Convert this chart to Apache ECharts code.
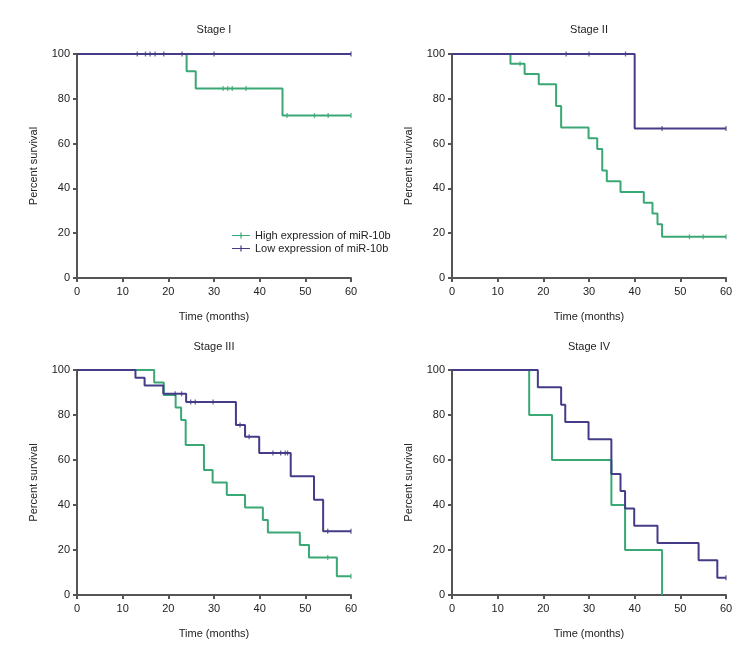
<!DOCTYPE html>
<html><head><meta charset="utf-8">
<script src="https://cdn.jsdelivr.net/npm/echarts@6/dist/echarts.min.js"></script>
<style>html,body{margin:0;padding:0;background:#fff}#c{width:756px;height:666px}</style>
</head><body><div id="c"></div>
<script>
const panelTitles = ['Stage I', 'Stage II', 'Stage III', 'Stage IV'];
const seriesNames = ['High expression of miR-10b', 'Low expression of miR-10b'];
const xAxisName = 'Time (months)';
const yAxisName = 'Percent survival';

// Stage I
const s1HighTime = [0, 24, 26, 45, 60];
const s1HighSurv = [100, 92.3, 84.6, 72.5, 72.5];
const s1HighCens = [32, 33, 34, 37, 46, 52, 55, 60];
const s1LowTime = [0, 60];
const s1LowSurv = [100, 100];
const s1LowCens = [13.2, 15, 16, 17.1, 19, 23, 30, 60];

// Stage II
const s2HighTime = [0, 12.8, 15.9, 19, 22.8, 23.9, 29.9, 31.8, 32.9, 33.9, 36.9, 42, 43.9, 45, 46, 60];
const s2HighSurv = [100, 95.7, 91.1, 86.5, 76.8, 67.2, 62.4, 57.6, 48.0, 43.2, 38.4, 33.6, 28.8, 24.0, 18.4, 18.4];
const s2HighCens = [14.9, 52, 55, 60];
const s2LowTime = [0, 40, 60];
const s2LowSurv = [100, 66.7, 66.7];
const s2LowCens = [25, 30, 38, 46, 60];

// Stage III
const s3HighTime = [0, 16.9, 19, 21.6, 22.8, 23.8, 27.8, 29.7, 32.8, 36.8, 40.7, 41.8, 48.8, 50.8, 56.9, 60];
const s3HighSurv = [100, 94.4, 88.9, 83.3, 77.8, 66.7, 55.6, 50.0, 44.4, 38.9, 33.3, 27.8, 22.2, 16.7, 8.3, 8.3];
const s3HighCens = [54.9, 60];
const s3LowTime = [0, 12.8, 14.8, 18.9, 23.9, 34.8, 36.8, 39.9, 46.8, 51.9, 53.9, 60];
const s3LowSurv = [100, 96.6, 93.1, 89.4, 85.8, 75.6, 70.3, 63.1, 52.8, 42.3, 28.3, 28.3];
const s3LowCens = [21.5, 22.9, 24.9, 25.9, 29.8, 35.7, 37.7, 42.9, 44.6, 45.6, 46.1, 54.9, 60];

// Stage IV
const s4HighTime = [0, 16.9, 21.9, 34.9, 37.9, 46];
const s4HighSurv = [100, 80, 60, 40, 20, 0];
const s4HighCens = [];
const s4LowTime = [0, 18.8, 23.9, 24.8, 29.9, 34.9, 36.9, 37.9, 39.9, 45, 54, 58.1, 60];
const s4LowSurv = [100, 92.3, 84.6, 76.9, 69.2, 53.8, 46.2, 38.5, 30.8, 23.1, 15.4, 7.7, 7.7];
const s4LowCens = [60];

const panels = [
  {high: [s1HighTime, s1HighSurv, s1HighCens], low: [s1LowTime, s1LowSurv, s1LowCens]},
  {high: [s2HighTime, s2HighSurv, s2HighCens], low: [s2LowTime, s2LowSurv, s2LowCens]},
  {high: [s3HighTime, s3HighSurv, s3HighCens], low: [s3LowTime, s3LowSurv, s3LowCens]},
  {high: [s4HighTime, s4HighSurv, s4HighCens], low: [s4LowTime, s4LowSurv, s4LowCens]}
];

const FONT = "'Liberation Sans Narrow','Liberation Sans',Arial,sans-serif";
const GREEN = '#3aa874';
const PURPLE = '#443c88';
const AXIS = '#555555';

const grids = [
  {left: 77, width: 274, top: 54, height: 224},
  {left: 452, width: 274, top: 54, height: 224},
  {left: 77, width: 274, top: 370, height: 225},
  {left: 452, width: 274, top: 370, height: 225}
];

function survAt(times, survs, t) {
  let v = survs[0];
  for (let i = 0; i < times.length; i++) { if (times[i] <= t) v = survs[i]; }
  return v;
}

const axisCommon = {
  axisLine: {show: true, lineStyle: {color: AXIS, width: 2}},
  axisTick: {show: true, length: 4, lineStyle: {color: AXIS, width: 2}},
  axisLabel: {fontSize: 11, color: '#222', fontFamily: FONT},
  splitLine: {show: false},
  nameTextStyle: {fontSize: 11, color: '#222', fontFamily: FONT}
};

const xAxes = grids.map((g, i) => Object.assign({}, axisCommon, {
  type: 'value', gridIndex: i, min: 0, max: 60, interval: 10,
  name: xAxisName, nameLocation: 'middle', nameGap: 33,
  axisLabel: Object.assign({}, axisCommon.axisLabel, {margin: 8})
}));
const yAxes = grids.map((g, i) => Object.assign({}, axisCommon, {
  type: 'value', gridIndex: i, min: 0, max: 100, interval: 20,
  name: yAxisName, nameLocation: 'middle', nameGap: 38,
  axisLabel: Object.assign({}, axisCommon.axisLabel, {margin: 7})
}));

const series = [];
panels.forEach((p, k) => {
  [['high', GREEN, 0], ['low', PURPLE, 1]].forEach(([key, color, ni]) => {
    const [times, survs, cens] = p[key];
    series.push({
      type: 'line', name: seriesNames[ni], xAxisIndex: k, yAxisIndex: k,
      step: 'end', symbol: 'none', color: color,
      lineStyle: {color: color, width: 2},
      data: times.map((t, i) => [t, survs[i]]),
      z: ni + 2
    });
    series.push({
      type: 'scatter', name: seriesNames[ni], xAxisIndex: k, yAxisIndex: k,
      symbol: 'rect', symbolSize: [1.3, 5], color: color,
      itemStyle: {color: color},
      data: cens.map(t => [t, survAt(times, survs, t)]),
      z: 5
    });
  });
});

const legendIcon = 'path://M0,3.4h18v1.2h-18z M8.4,1h1.2v6h-1.2z';

const titleGraphics = panelTitles.map((t, i) => ({
  type: 'text',
  x: grids[i].left + grids[i].width / 2,
  y: i < 2 ? 30 : 347,
  style: {text: t, fill: '#222', font: '11px ' + FONT, textAlign: 'center', textVerticalAlign: 'middle', align: 'center', verticalAlign: 'middle'}
}));

const chart = echarts.init(document.getElementById('c'), null, {renderer: 'canvas'});
chart.setOption({
  animation: false,
  backgroundColor: '#ffffff',
  grid: grids,
  xAxis: xAxes,
  yAxis: yAxes,
  legend: {
    orient: 'vertical', left: 227, top: 225,
    itemWidth: 18, itemHeight: 7, itemGap: 2,
    textStyle: {fontSize: 11, color: '#222', fontFamily: FONT},
    data: [
      {name: seriesNames[0], icon: legendIcon, itemStyle: {color: GREEN}},
      {name: seriesNames[1], icon: legendIcon, itemStyle: {color: PURPLE}}
    ]
  },
  graphic: titleGraphics,
  series: series
});
</script>
</body></html>
